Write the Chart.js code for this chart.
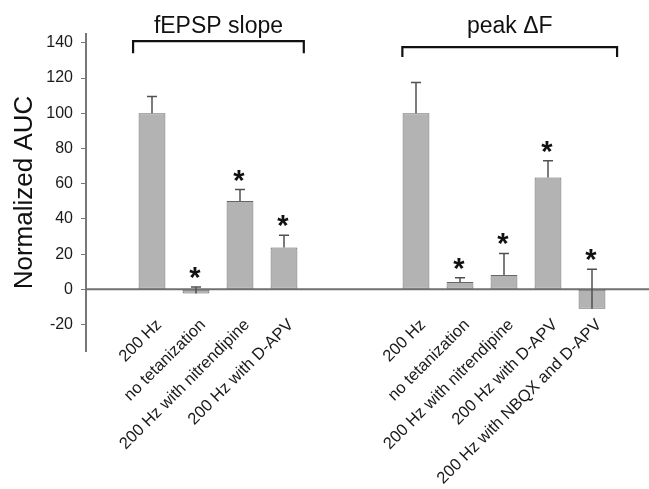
<!DOCTYPE html>
<html>
<head>
<meta charset="utf-8">
<script src="https://cdn.jsdelivr.net/npm/chart.js@4"></script>
<style>
  html, body { margin: 0; padding: 0; background: #fff; }
  canvas { display: block; }
</style>
</head>
<body>
<canvas id="aucChart" width="649" height="489"></canvas>
<script>
// group titles and the bars in each group
const groupTitles = ['fEPSP slope', 'peak \u0394F'];

const fepspLabels = ['200 Hz', 'no tetanization', '200 Hz with nitrendipine', '200 Hz with D-APV'];
const fepspMeans = [100, -2.3, 50.2, 23.7];
const fepspSem = [9.5, 3.6, 6.5, 7];
const fepspStars = [false, true, true, true];

const peakLabels = ['200 Hz', 'no tetanization', '200 Hz with nitrendipine', '200 Hz with D-APV', '200 Hz with NBQX and D-APV'];
const peakMeans = [100, 4.2, 8.1, 63.5, -11];
const peakSem = [17.5, 2.4, 12.3, 9.5, 22.4];
const peakStars = [false, true, true, true, true];

const yTicks = [-20, 0, 20, 40, 60, 80, 100, 120, 140];

// empty slots before the first group and between the groups
const labels = [''].concat(fepspLabels, ['', ''], peakLabels);
const means = [null].concat(fepspMeans, [null, null], peakMeans);
const sems = [null].concat(fepspSem, [null, null], peakSem);
const stars = [false].concat(fepspStars, [false, false], peakStars);

const FONT = "'Liberation Sans', Arial, sans-serif";

// brackets over each group: category index range plus overhang, heights in y units
const brackets = [
    { from: 1, to: 4, padL: 0.43, padR: 0.45, y: 141, foot: 134 },
    { from: 7, to: 11, padL: 0.31, padR: 0.57, y: 137.5, foot: 132 }
];

const extras = {
    id: 'extras',
    afterDatasetsDraw(chart) {
        const ctx = chart.ctx;
        const x = chart.scales.x, y = chart.scales.y;
        const area = chart.chartArea;
        const meta = chart.getDatasetMeta(0);
        const step = x.getPixelForValue(1) - x.getPixelForValue(0);
        ctx.save();

        // zero line
        const y0 = y.getPixelForValue(0);
        ctx.strokeStyle = '#707070';
        ctx.lineWidth = 2;
        ctx.beginPath();
        ctx.moveTo(area.left, y0);
        ctx.lineTo(chart.width, y0);
        ctx.stroke();

        // error bars (upper only) and significance stars
        meta.data.forEach(function (bar, i) {
            if (means[i] === null) return;
            const yv = y.getPixelForValue(means[i]);
            const yt = y.getPixelForValue(means[i] + sems[i]);
            ctx.strokeStyle = '#505050';
            ctx.lineWidth = 1.5;
            ctx.beginPath();
            ctx.moveTo(bar.x, yv);
            ctx.lineTo(bar.x, yt);
            ctx.moveTo(bar.x - 5, yt);
            ctx.lineTo(bar.x + 5, yt);
            ctx.stroke();
            if (stars[i]) {
                ctx.fillStyle = '#111';
                ctx.font = 'bold 29px ' + FONT;
                ctx.textAlign = 'center';
                ctx.textBaseline = 'alphabetic';
                ctx.fillText('*', bar.x - 1, yt);
            }
        });

        // brackets and group titles
        brackets.forEach(function (b, k) {
            const xl = x.getPixelForValue(b.from) - b.padL * step;
            const xr = x.getPixelForValue(b.to) + b.padR * step;
            const yb = y.getPixelForValue(b.y);
            const yf = y.getPixelForValue(b.foot);
            ctx.strokeStyle = '#111';
            ctx.lineWidth = 2.2;
            ctx.beginPath();
            ctx.moveTo(xl, yf);
            ctx.lineTo(xl, yb);
            ctx.lineTo(xr, yb);
            ctx.lineTo(xr, yf);
            ctx.stroke();
            ctx.fillStyle = '#111';
            ctx.font = '23px ' + FONT;
            ctx.textAlign = 'center';
            ctx.textBaseline = 'alphabetic';
            ctx.fillText(groupTitles[k], (xl + xr) / 2, y.getPixelForValue(145.5));
        });
        ctx.restore();
    }
};

const ctx = document.getElementById('aucChart').getContext('2d');
const aucChart = new Chart(ctx, {
    type: 'bar',
    data: {
        labels: labels,
        datasets: [{
            data: means,
            backgroundColor: '#b3b3b3',
            borderColor: '#666',
            borderWidth: 1,
            borderSkipped: false,
            barPercentage: 0.61,
            categoryPercentage: 1
        }]
    },
    options: {
        responsive: false,
        animation: false,
        devicePixelRatio: 1,
        layout: { padding: { left: 0, top: 34, right: 35, bottom: 138 } },
        plugins: {
            legend: { display: false },
            tooltip: { enabled: false }
        },
        scales: {
            x: {
                position: { y: 0 },
                grid: { display: false },
                border: { display: false },
                ticks: {
                    autoSkip: false,
                    minRotation: 45,
                    maxRotation: 45,
                    padding: 18,
                    labelOffset: 7,
                    color: '#1a1a1a',
                    font: { family: FONT, size: 16.5 }
                }
            },
            y: {
                min: -35,
                max: 145,
                afterBuildTicks: function (scale) {
                    scale.ticks = yTicks.map(function (v) { return { value: v }; });
                },
                afterFit: function (scale) { scale.width = 86; },
                grid: {
                    drawOnChartArea: false,
                    drawTicks: true,
                    tickLength: 5,
                    color: '#777'
                },
                border: { color: '#777', width: 2 },
                ticks: {
                    padding: 8,
                    color: '#1a1a1a',
                    font: { family: FONT, size: 16 }
                },
                title: {
                    display: true,
                    text: 'Normalized AUC',
                    color: '#111',
                    padding: { top: 9, bottom: 0 },
                    font: { family: FONT, size: 26 }
                }
            }
        }
    },
    plugins: [extras]
});
</script>
</body>
</html>
